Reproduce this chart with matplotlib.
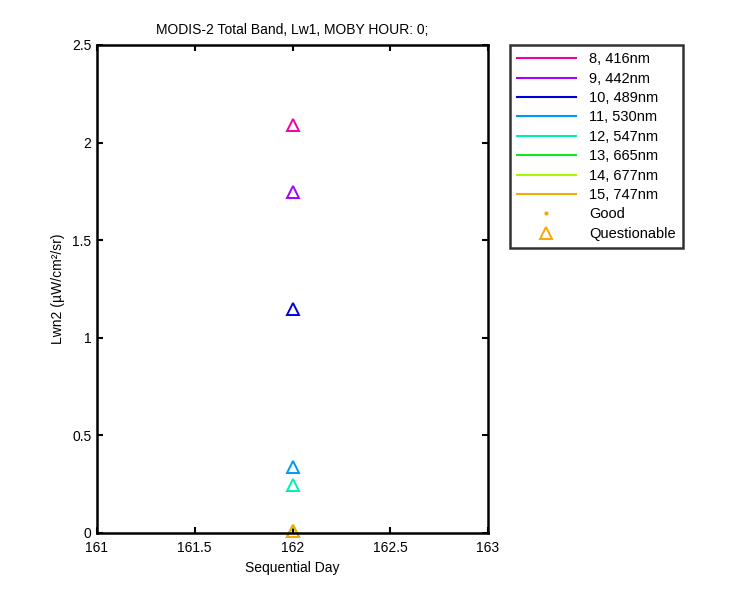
import matplotlib
matplotlib.use("Agg")
import matplotlib.pyplot as plt
from matplotlib.lines import Line2D

plt.rcParams['font.family'] = ['Liberation Sans', 'DejaVu Sans']

bands = ["8, 416nm", "9, 442nm", "10, 489nm", "11, 530nm", "12, 547nm",
         "13, 665nm", "14, 677nm", "15, 747nm"]
colors = ["#F000A8", "#A800F8", "#0000D8", "#0098F8", "#00F0B0",
          "#10E820", "#A8F800", "#F8A800"]
days = [162, 162, 162, 162, 162, 162, 162, 162]
values = [2.09, 1.745, 1.15, 0.34, 0.245, 0.01, 0.01, 0.01]
quality = ["Q", "Q", "Q", "Q", "Q", "Q", "Q", "Q"]

xticks = [161, 161.5, 162, 162.5, 163]
yticks = [0, 0.5, 1, 1.5, 2, 2.5]

fig = plt.figure(figsize=(7.5, 6), dpi=100)
ax = fig.add_axes([97/750, 1 - 533/600, (488-97)/750, (533-45)/600])

for d, v, c, q in zip(days, values, colors, quality):
    if q == "Q":
        ax.plot(d, v, '^', mfc='none', mec=c, ms=8, mew=1.4, clip_on=False)
    else:
        ax.plot(d, v, '.', color=c, ms=4)

ax.set_xlim(161, 163)
ax.set_ylim(0, 2.5)
ax.set_xticks(xticks)
ax.set_xticklabels([f"{t:g}" for t in xticks])
ax.set_yticks(yticks)
ax.set_yticklabels([f"{t:g}" for t in yticks])
ax.tick_params(direction='in', length=4, labelsize=10, width=1.5, top=True, right=True)
ax.tick_params(axis='x', pad=6)
ax.tick_params(axis='y', pad=4)
for s in ax.spines.values():
    s.set_linewidth(1.8)
ax.set_title("MODIS-2 Total Band, Lw1, MOBY HOUR: 0;", fontsize=10, pad=8)
ax.set_xlabel("Sequential Day", fontsize=10, labelpad=4)
ax.set_ylabel("Lwn2 (µW/cm²/sr)", fontsize=10, labelpad=5)

handles = [Line2D([], [], color=c, lw=1.5) for c in colors]
handles.append(Line2D([], [], ls='none', marker='.', color="#F8A800", ms=4))
handles.append(Line2D([], [], ls='none', marker='^', mfc='none', mec="#F8A800", ms=8, mew=1.4))
labels = bands + ["Good", "Questionable"]
leg = fig.legend(handles, labels, loc='upper left', bbox_to_anchor=(510/750, 1 - 45/600),
                 fontsize=10.5, frameon=True, fancybox=False, edgecolor='black',
                 handlelength=4.0, handletextpad=0.9, labelspacing=0.37,
                 borderpad=0.5, borderaxespad=0)
leg.get_frame().set_linewidth(1.8)

fig.savefig("out.png", dpi=100)
